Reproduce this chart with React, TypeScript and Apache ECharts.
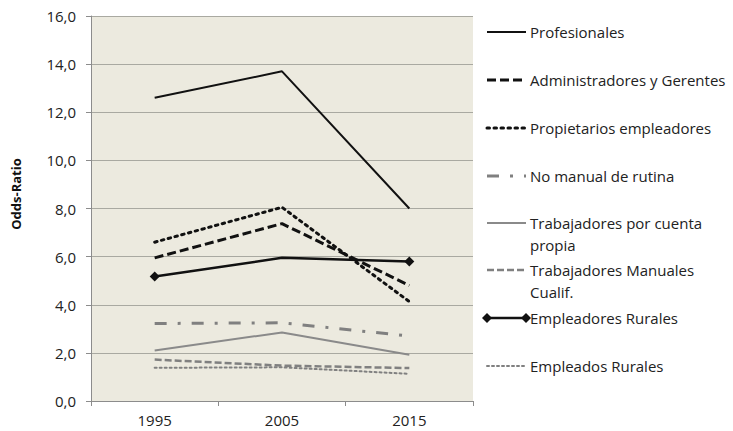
import React, { useEffect, useRef } from "react";
import * as echarts from "echarts";

const years = ["1995", "2005", "2015"];
const seriesNames = [
  "Profesionales",
  "Administradores y Gerentes",
  "Propietarios empleadores",
  "No manual de rutina",
  "Trabajadores por cuenta propia",
  "Trabajadores Manuales Cualif.",
  "Empleadores Rurales",
  "Empleados Rurales",
];
const legendLabels = [
  "Profesionales",
  "Administradores y Gerentes",
  "Propietarios empleadores",
  "No manual de rutina",
  "Trabajadores por cuenta\npropia",
  "Trabajadores Manuales\nCualif.",
  "Empleadores Rurales",
  "Empleados Rurales",
];
const profesionales = [12.6, 13.7, 8.0];
const administradores = [5.95, 7.37, 4.8];
const propietarios = [6.6, 8.05, 4.13];
const noManual = [3.22, 3.25, 2.7];
const cuentaPropia = [2.1, 2.85, 1.92];
const manualesCualif = [1.72, 1.47, 1.37];
const empleadoresRurales = [5.17, 5.95, 5.8];
const empleadosRurales = [1.38, 1.4, 1.13];
const yTicks = { min: 0, max: 16, interval: 2 };
const yTitle = "Odds-Ratio";

const dataSets = [
  profesionales,
  administradores,
  propietarios,
  noManual,
  cuentaPropia,
  manualesCualif,
  empleadoresRurales,
  empleadosRurales,
];

const styles: any[] = [
  { color: "#111", width: 2, type: "solid" },
  { color: "#111", width: 3, type: [9, 4] },
  { color: "#111", width: 3, type: [2.5, 4.5] },
  { color: "#808080", width: 3, type: [12, 11, 3, 11] },
  { color: "#8a8a8a", width: 2, type: "solid" },
  { color: "#808080", width: 2.5, type: [7, 3] },
  { color: "#111", width: 2.5, type: "solid" },
  { color: "#808080", width: 2, type: [2, 3] },
];

const legendY = [32, 80, 128, 176, 223, 270, 318, 366];
const FONT = "'Open Sans', Lato, sans-serif";

export default function App() {
  const ref = useRef<HTMLDivElement>(null);
  useEffect(() => {
    document.body.style.margin = "0";
    const chart = echarts.init(ref.current!, null, { renderer: "svg" });
    const series = seriesNames.map((name, i) => ({
      name,
      type: "line",
      data:
        i === 6
          ? dataSets[i].map((v, j) => ({
              value: v,
              symbol: j === 1 ? "none" : "diamond",
            }))
          : dataSets[i],
      symbol: i === 6 ? "diamond" : "none",
      symbolSize: 10,
      showSymbol: i === 6,
      itemStyle: { color: styles[i].color },
      lineStyle: {
        color: styles[i].color,
        width: styles[i].width,
        type: styles[i].type,
        cap: i === 2 || i === 7 ? "round" : "butt",
      },
      z: 10 - i,
    }));

    const graphics: any[] = [
      {
        type: "rect",
        shape: { x: 91, y: 16, width: 382, height: 385 },
        style: { fill: "#ECEADF" },
        z: -10,
        silent: true,
      },
      {
        type: "text",
        x: 16,
        y: 194,
        rotation: Math.PI / 2,
        style: {
          text: yTitle,
          fill: "#111",
          font: `bold 13px ${FONT}`,
          align: "center",
          verticalAlign: "middle",
        },
      },
    ];
    legendLabels.forEach((label, i) => {
      const y = legendY[i];
      const s = styles[i];
      graphics.push({
        type: "line",
        shape: { x1: 487, y1: y, x2: 526, y2: y },
        style: {
          stroke: s.color,
          lineWidth: s.width,
          lineDash: s.type === "solid" ? null : s.type,
          lineCap: i === 2 || i === 7 ? "round" : "butt",
        },
      });
      if (i === 6) {
        [487, 526].forEach((x) =>
          graphics.push({
            type: "polygon",
            shape: {
              points: [
                [x, y - 5],
                [x + 5, y],
                [x, y + 5],
                [x - 5, y],
              ],
            },
            style: { fill: "#111" },
          })
        );
      }
      graphics.push({
        type: "text",
        x: 530,
        y: y - 11,
        style: {
          text: label,
          fill: "#222",
          font: `15px ${FONT}`,
          lineHeight: 22,
          verticalAlign: "top",
        },
      });
    });

    chart.setOption({
      animation: false,
      grid: { left: 91, right: 260, top: 16, bottom: 30, containLabel: false },
      xAxis: {
        type: "category",
        data: years,
        boundaryGap: true,
        axisLine: { lineStyle: { color: "#8c8c8c" } },
        axisTick: { show: true, length: 5, lineStyle: { color: "#8c8c8c" } },
        axisLabel: { color: "#222", fontSize: 15, fontFamily: FONT, margin: 11 },
      },
      yAxis: {
        type: "value",
        min: yTicks.min,
        max: yTicks.max,
        interval: yTicks.interval,
        axisLine: { show: true, lineStyle: { color: "#8c8c8c" } },
        axisTick: { show: true, length: 5, lineStyle: { color: "#8c8c8c" } },
        axisLabel: {
          color: "#222",
          fontSize: 15,
          fontFamily: FONT,
          margin: 15,
          formatter: (v: number) => v.toFixed(1).replace(".", ","),
        },
        splitLine: { lineStyle: { color: "#a9a9a1", width: 1 } },
      },
      graphic: graphics,
      series,
    });
    return () => chart.dispose();
  }, []);
  return <div ref={ref} style={{ width: 733, height: 431 }} />;
}
